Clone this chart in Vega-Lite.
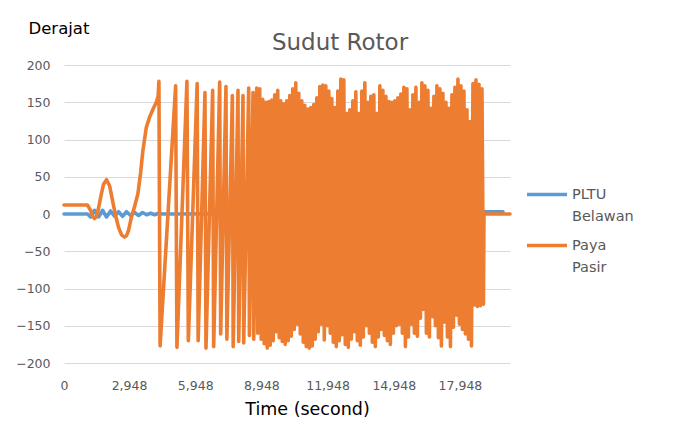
{
  "$schema": "https://vega.github.io/schema/vega-lite/v6.json",
  "width": 446,
  "height": 298,
  "autosize": {"type": "none"},
  "padding": {"left": 64, "top": 65, "right": 167, "bottom": 61},
  "background": "white",
  "title": {"text": "Sudut Rotor", "anchor": "middle", "frame": "group", "dx": 53, "offset": 0, "dy": 53, "baseline": "alphabetic", "font": "DejaVu Sans", "fontSize": 23, "fontWeight": "normal", "color": "#595959"},
  "data": {"values": [
    {"s":"PLTU Belawan","t":0,"v":0},{"s":"PLTU Belawan","t":1066,"v":0},{"s":"PLTU Belawan","t":1203,"v":-4},{"s":"PLTU Belawan","t":1384,"v":5},{"s":"PLTU Belawan","t":1566,"v":-4},{"s":"PLTU Belawan","t":1747,"v":5},{"s":"PLTU Belawan","t":1929,"v":-4},{"s":"PLTU Belawan","t":2110,"v":4},{"s":"PLTU Belawan","t":2292,"v":-3},{"s":"PLTU Belawan","t":2473,"v":3},{"s":"PLTU Belawan","t":2655,"v":-3},{"s":"PLTU Belawan","t":2836,"v":3},{"s":"PLTU Belawan","t":3018,"v":-2},{"s":"PLTU Belawan","t":3199,"v":2},{"s":"PLTU Belawan","t":3381,"v":-2},{"s":"PLTU Belawan","t":3562,"v":2},{"s":"PLTU Belawan","t":3744,"v":-1},{"s":"PLTU Belawan","t":3925,"v":1},{"s":"PLTU Belawan","t":4107,"v":-1},{"s":"PLTU Belawan","t":4288,"v":1},{"s":"PLTU Belawan","t":4470,"v":0},{"s":"PLTU Belawan","t":18992,"v":1},{"s":"PLTU Belawan","t":19082,"v":3},{"s":"PLTU Belawan","t":19899,"v":3},
    {"s":"Paya Pasir","t":0,"v":12},{"s":"Paya Pasir","t":1066,"v":12},{"s":"Paya Pasir","t":1203,"v":5},{"s":"Paya Pasir","t":1293,"v":-3},{"s":"Paya Pasir","t":1384,"v":-6},{"s":"Paya Pasir","t":1475,"v":-3},{"s":"Paya Pasir","t":1566,"v":8},{"s":"Paya Pasir","t":1679,"v":25},{"s":"Paya Pasir","t":1793,"v":40},{"s":"Paya Pasir","t":1929,"v":46},{"s":"Paya Pasir","t":2065,"v":38},{"s":"Paya Pasir","t":2201,"v":18},{"s":"Paya Pasir","t":2337,"v":-2},{"s":"Paya Pasir","t":2473,"v":-18},{"s":"Paya Pasir","t":2609,"v":-28},{"s":"Paya Pasir","t":2745,"v":-31},{"s":"Paya Pasir","t":2836,"v":-29},{"s":"Paya Pasir","t":2927,"v":-22},{"s":"Paya Pasir","t":3050,"v":-5},{"s":"Paya Pasir","t":3199,"v":10},{"s":"Paya Pasir","t":3349,"v":27},{"s":"Paya Pasir","t":3472,"v":55},{"s":"Paya Pasir","t":3576,"v":85},{"s":"Paya Pasir","t":3730,"v":116},{"s":"Paya Pasir","t":3880,"v":130},{"s":"Paya Pasir","t":4039,"v":141},{"s":"Paya Pasir","t":4184,"v":150},{"s":"Paya Pasir","t":4266,"v":158},{"s":"Paya Pasir","t":4302,"v":178},
    {"s":"Paya Pasir","t":4356,"v":-177},{"s":"Paya Pasir","t":5060,"v":172},{"s":"Paya Pasir","t":5119,"v":-179},{"s":"Paya Pasir","t":5573,"v":178},{"s":"Paya Pasir","t":5636,"v":-170},{"s":"Paya Pasir","t":6036,"v":175},{"s":"Paya Pasir","t":6081,"v":-170},{"s":"Paya Pasir","t":6390,"v":163},{"s":"Paya Pasir","t":6435,"v":-180},{"s":"Paya Pasir","t":6739,"v":166},{"s":"Paya Pasir","t":6784,"v":-178},{"s":"Paya Pasir","t":7057,"v":177},{"s":"Paya Pasir","t":7102,"v":-161},{"s":"Paya Pasir","t":7342,"v":171},{"s":"Paya Pasir","t":7383,"v":-168},{"s":"Paya Pasir","t":7633,"v":159},{"s":"Paya Pasir","t":7669,"v":-178},{"s":"Paya Pasir","t":7887,"v":166},{"s":"Paya Pasir","t":7919,"v":-171},{"s":"Paya Pasir","t":8114,"v":159},{"s":"Paya Pasir","t":8146,"v":-173},{"s":"Paya Pasir","t":8373,"v":169},{"s":"Paya Pasir","t":8404,"v":-163},{"s":"Paya Pasir","t":8568,"v":163},{"s":"Paya Pasir","t":8600,"v":-168},{"s":"Paya Pasir","t":8736,"v":169},{"s":"Paya Pasir","t":8781,"v":-160},
    {"s":"Paya Pasir","t":8872,"v":168},{"s":"Paya Pasir","t":8940,"v":-168},{"s":"Paya Pasir","t":9008,"v":154},{"s":"Paya Pasir","t":9076,"v":-174},{"s":"Paya Pasir","t":9144,"v":150},{"s":"Paya Pasir","t":9212,"v":-180},{"s":"Paya Pasir","t":9280,"v":151},{"s":"Paya Pasir","t":9348,"v":-176},{"s":"Paya Pasir","t":9416,"v":153},{"s":"Paya Pasir","t":9484,"v":-170},{"s":"Paya Pasir","t":9553,"v":160},{"s":"Paya Pasir","t":9621,"v":-158},{"s":"Paya Pasir","t":9689,"v":166},{"s":"Paya Pasir","t":9757,"v":-166},{"s":"Paya Pasir","t":9825,"v":152},{"s":"Paya Pasir","t":9893,"v":-171},{"s":"Paya Pasir","t":9961,"v":148},{"s":"Paya Pasir","t":10029,"v":-175},{"s":"Paya Pasir","t":10097,"v":152},{"s":"Paya Pasir","t":10165,"v":-170},{"s":"Paya Pasir","t":10233,"v":159},{"s":"Paya Pasir","t":10301,"v":-164},{"s":"Paya Pasir","t":10369,"v":168},{"s":"Paya Pasir","t":10437,"v":-155},{"s":"Paya Pasir","t":10506,"v":176},{"s":"Paya Pasir","t":10574,"v":-148},{"s":"Paya Pasir","t":10642,"v":162},{"s":"Paya Pasir","t":10710,"v":-161},{"s":"Paya Pasir","t":10778,"v":152},{"s":"Paya Pasir","t":10846,"v":-172},{"s":"Paya Pasir","t":10914,"v":146},{"s":"Paya Pasir","t":10982,"v":-178},{"s":"Paya Pasir","t":11050,"v":141},{"s":"Paya Pasir","t":11118,"v":-180},{"s":"Paya Pasir","t":11186,"v":143},{"s":"Paya Pasir","t":11254,"v":-177},{"s":"Paya Pasir","t":11322,"v":147},{"s":"Paya Pasir","t":11390,"v":-168},{"s":"Paya Pasir","t":11459,"v":156},{"s":"Paya Pasir","t":11527,"v":-158},{"s":"Paya Pasir","t":11595,"v":171},{"s":"Paya Pasir","t":11663,"v":-148},{"s":"Paya Pasir","t":11731,"v":173},{"s":"Paya Pasir","t":11799,"v":-169},{"s":"Paya Pasir","t":11867,"v":172},{"s":"Paya Pasir","t":11935,"v":-150},{"s":"Paya Pasir","t":12003,"v":165},{"s":"Paya Pasir","t":12071,"v":-160},{"s":"Paya Pasir","t":12139,"v":155},{"s":"Paya Pasir","t":12207,"v":-172},{"s":"Paya Pasir","t":12275,"v":143},{"s":"Paya Pasir","t":12343,"v":-178},{"s":"Paya Pasir","t":12411,"v":165},{"s":"Paya Pasir","t":12479,"v":-170},{"s":"Paya Pasir","t":12548,"v":181},{"s":"Paya Pasir","t":12616,"v":-162},{"s":"Paya Pasir","t":12684,"v":180},{"s":"Paya Pasir","t":12752,"v":-175},{"s":"Paya Pasir","t":12820,"v":135},{"s":"Paya Pasir","t":12888,"v":-179},{"s":"Paya Pasir","t":12956,"v":140},{"s":"Paya Pasir","t":13024,"v":-168},{"s":"Paya Pasir","t":13092,"v":152},{"s":"Paya Pasir","t":13160,"v":-158},{"s":"Paya Pasir","t":13228,"v":164},{"s":"Paya Pasir","t":13296,"v":-170},{"s":"Paya Pasir","t":13364,"v":135},{"s":"Paya Pasir","t":13432,"v":-176},{"s":"Paya Pasir","t":13501,"v":165},{"s":"Paya Pasir","t":13569,"v":-165},{"s":"Paya Pasir","t":13637,"v":176},{"s":"Paya Pasir","t":13705,"v":-150},{"s":"Paya Pasir","t":13773,"v":150},{"s":"Paya Pasir","t":13841,"v":-160},{"s":"Paya Pasir","t":13909,"v":158},{"s":"Paya Pasir","t":13977,"v":-172},{"s":"Paya Pasir","t":14045,"v":160},{"s":"Paya Pasir","t":14113,"v":-178},{"s":"Paya Pasir","t":14181,"v":135},{"s":"Paya Pasir","t":14249,"v":-165},{"s":"Paya Pasir","t":14317,"v":172},{"s":"Paya Pasir","t":14385,"v":-155},{"s":"Paya Pasir","t":14454,"v":166},{"s":"Paya Pasir","t":14522,"v":-163},{"s":"Paya Pasir","t":14590,"v":158},{"s":"Paya Pasir","t":14658,"v":-170},{"s":"Paya Pasir","t":14726,"v":151},{"s":"Paya Pasir","t":14794,"v":-175},{"s":"Paya Pasir","t":14862,"v":150},{"s":"Paya Pasir","t":14930,"v":-160},{"s":"Paya Pasir","t":14998,"v":152},{"s":"Paya Pasir","t":15066,"v":-150},{"s":"Paya Pasir","t":15134,"v":156},{"s":"Paya Pasir","t":15202,"v":-148},{"s":"Paya Pasir","t":15270,"v":161},{"s":"Paya Pasir","t":15338,"v":-160},{"s":"Paya Pasir","t":15407,"v":170},{"s":"Paya Pasir","t":15475,"v":-178},{"s":"Paya Pasir","t":15543,"v":168},{"s":"Paya Pasir","t":15611,"v":-165},{"s":"Paya Pasir","t":15679,"v":140},{"s":"Paya Pasir","t":15747,"v":-148},{"s":"Paya Pasir","t":15815,"v":160},{"s":"Paya Pasir","t":15883,"v":-160},{"s":"Paya Pasir","t":15951,"v":170},{"s":"Paya Pasir","t":16019,"v":-164},{"s":"Paya Pasir","t":16087,"v":150},{"s":"Paya Pasir","t":16155,"v":-140},{"s":"Paya Pasir","t":16223,"v":176},{"s":"Paya Pasir","t":16291,"v":-128},{"s":"Paya Pasir","t":16360,"v":172},{"s":"Paya Pasir","t":16428,"v":-160},{"s":"Paya Pasir","t":16496,"v":166},{"s":"Paya Pasir","t":16564,"v":-165},{"s":"Paya Pasir","t":16632,"v":142},{"s":"Paya Pasir","t":16700,"v":-138},{"s":"Paya Pasir","t":16768,"v":158},{"s":"Paya Pasir","t":16836,"v":-150},{"s":"Paya Pasir","t":16904,"v":172},{"s":"Paya Pasir","t":16972,"v":-166},{"s":"Paya Pasir","t":17040,"v":168},{"s":"Paya Pasir","t":17108,"v":-177},{"s":"Paya Pasir","t":17176,"v":162},{"s":"Paya Pasir","t":17244,"v":-145},{"s":"Paya Pasir","t":17313,"v":150},{"s":"Paya Pasir","t":17381,"v":-165},{"s":"Paya Pasir","t":17449,"v":142},{"s":"Paya Pasir","t":17517,"v":-178},{"s":"Paya Pasir","t":17585,"v":160},{"s":"Paya Pasir","t":17653,"v":-152},{"s":"Paya Pasir","t":17721,"v":170},{"s":"Paya Pasir","t":17789,"v":-136},{"s":"Paya Pasir","t":17857,"v":181},{"s":"Paya Pasir","t":17925,"v":-148},{"s":"Paya Pasir","t":17993,"v":172},{"s":"Paya Pasir","t":18061,"v":-155},{"s":"Paya Pasir","t":18129,"v":165},{"s":"Paya Pasir","t":18197,"v":-161},{"s":"Paya Pasir","t":18266,"v":140},{"s":"Paya Pasir","t":18334,"v":-168},{"s":"Paya Pasir","t":18402,"v":124},{"s":"Paya Pasir","t":18470,"v":-177},{"s":"Paya Pasir","t":18538,"v":175},{"s":"Paya Pasir","t":18606,"v":-122},{"s":"Paya Pasir","t":18674,"v":180},{"s":"Paya Pasir","t":18742,"v":-124},{"s":"Paya Pasir","t":18810,"v":174},{"s":"Paya Pasir","t":18878,"v":-123},{"s":"Paya Pasir","t":18946,"v":168},{"s":"Paya Pasir","t":19014,"v":-121},{"s":"Paya Pasir","t":19037,"v":0},{"s":"Paya Pasir","t":20217,"v":0}
  ]},
  "mark": {"type": "line", "strokeWidth": 3.6, "strokeCap": "round", "strokeJoin": "round"},
  "encoding": {
    "x": {"field": "t", "type": "quantitative",
      "scale": {"domain": [0, 20217], "nice": false, "zero": false},
      "axis": {"values": [0, 2948, 5948, 8948, 11948, 14948, 17948], "format": ",.0f", "grid": false, "domain": false, "ticks": false, "labelFlush": false, "labelFont": "DejaVu Sans", "labelFontSize": 12.5, "labelColor": "#595959", "labelPadding": 16, "title": "Time (second)", "titleX": 243, "titleY": 51, "titleAlign": "center", "titleBaseline": "alphabetic", "titleFont": "DejaVu Sans", "titleFontSize": 17.5, "titleFontWeight": "normal", "titleColor": "#000000"}},
    "y": {"field": "v", "type": "quantitative",
      "scale": {"domain": [-200, 200], "nice": false},
      "axis": {"values": [-200, -150, -100, -50, 0, 50, 100, 150, 200], "grid": true, "gridColor": "#d9d9d9", "gridWidth": 1, "domain": false, "ticks": false, "labelFont": "DejaVu Sans", "labelFontSize": 12.5, "labelColor": "#595959", "labelPadding": 14, "title": "Derajat", "titleAngle": 0, "titleAlign": "left", "titleBaseline": "alphabetic", "titleX": -36, "titleY": -32, "titleFont": "DejaVu Sans", "titleFontSize": 16.5, "titleFontWeight": "normal", "titleColor": "#000000"}},
    "color": {"field": "s", "type": "nominal",
      "scale": {"domain": ["PLTU Belawan", "Paya Pasir"], "range": ["#5B9BD5", "#ED7D31"]},
      "legend": {"title": null, "orient": "none", "legendX": 461, "legendY": 107.5, "padding": 0, "symbolType": "stroke", "symbolSize": 1600, "symbolStrokeWidth": 3.7, "labelFont": "DejaVu Sans", "labelFontSize": 14.5, "labelColor": "#595959", "labelOffset": 3, "labelLimit": 200, "labelExpr": "split(datum.label, ' ')", "rowPadding": -2}}
  },
  "config": {"view": {"stroke": null}, "style": {"guide-label": {"lineHeight": 22}}}
}
